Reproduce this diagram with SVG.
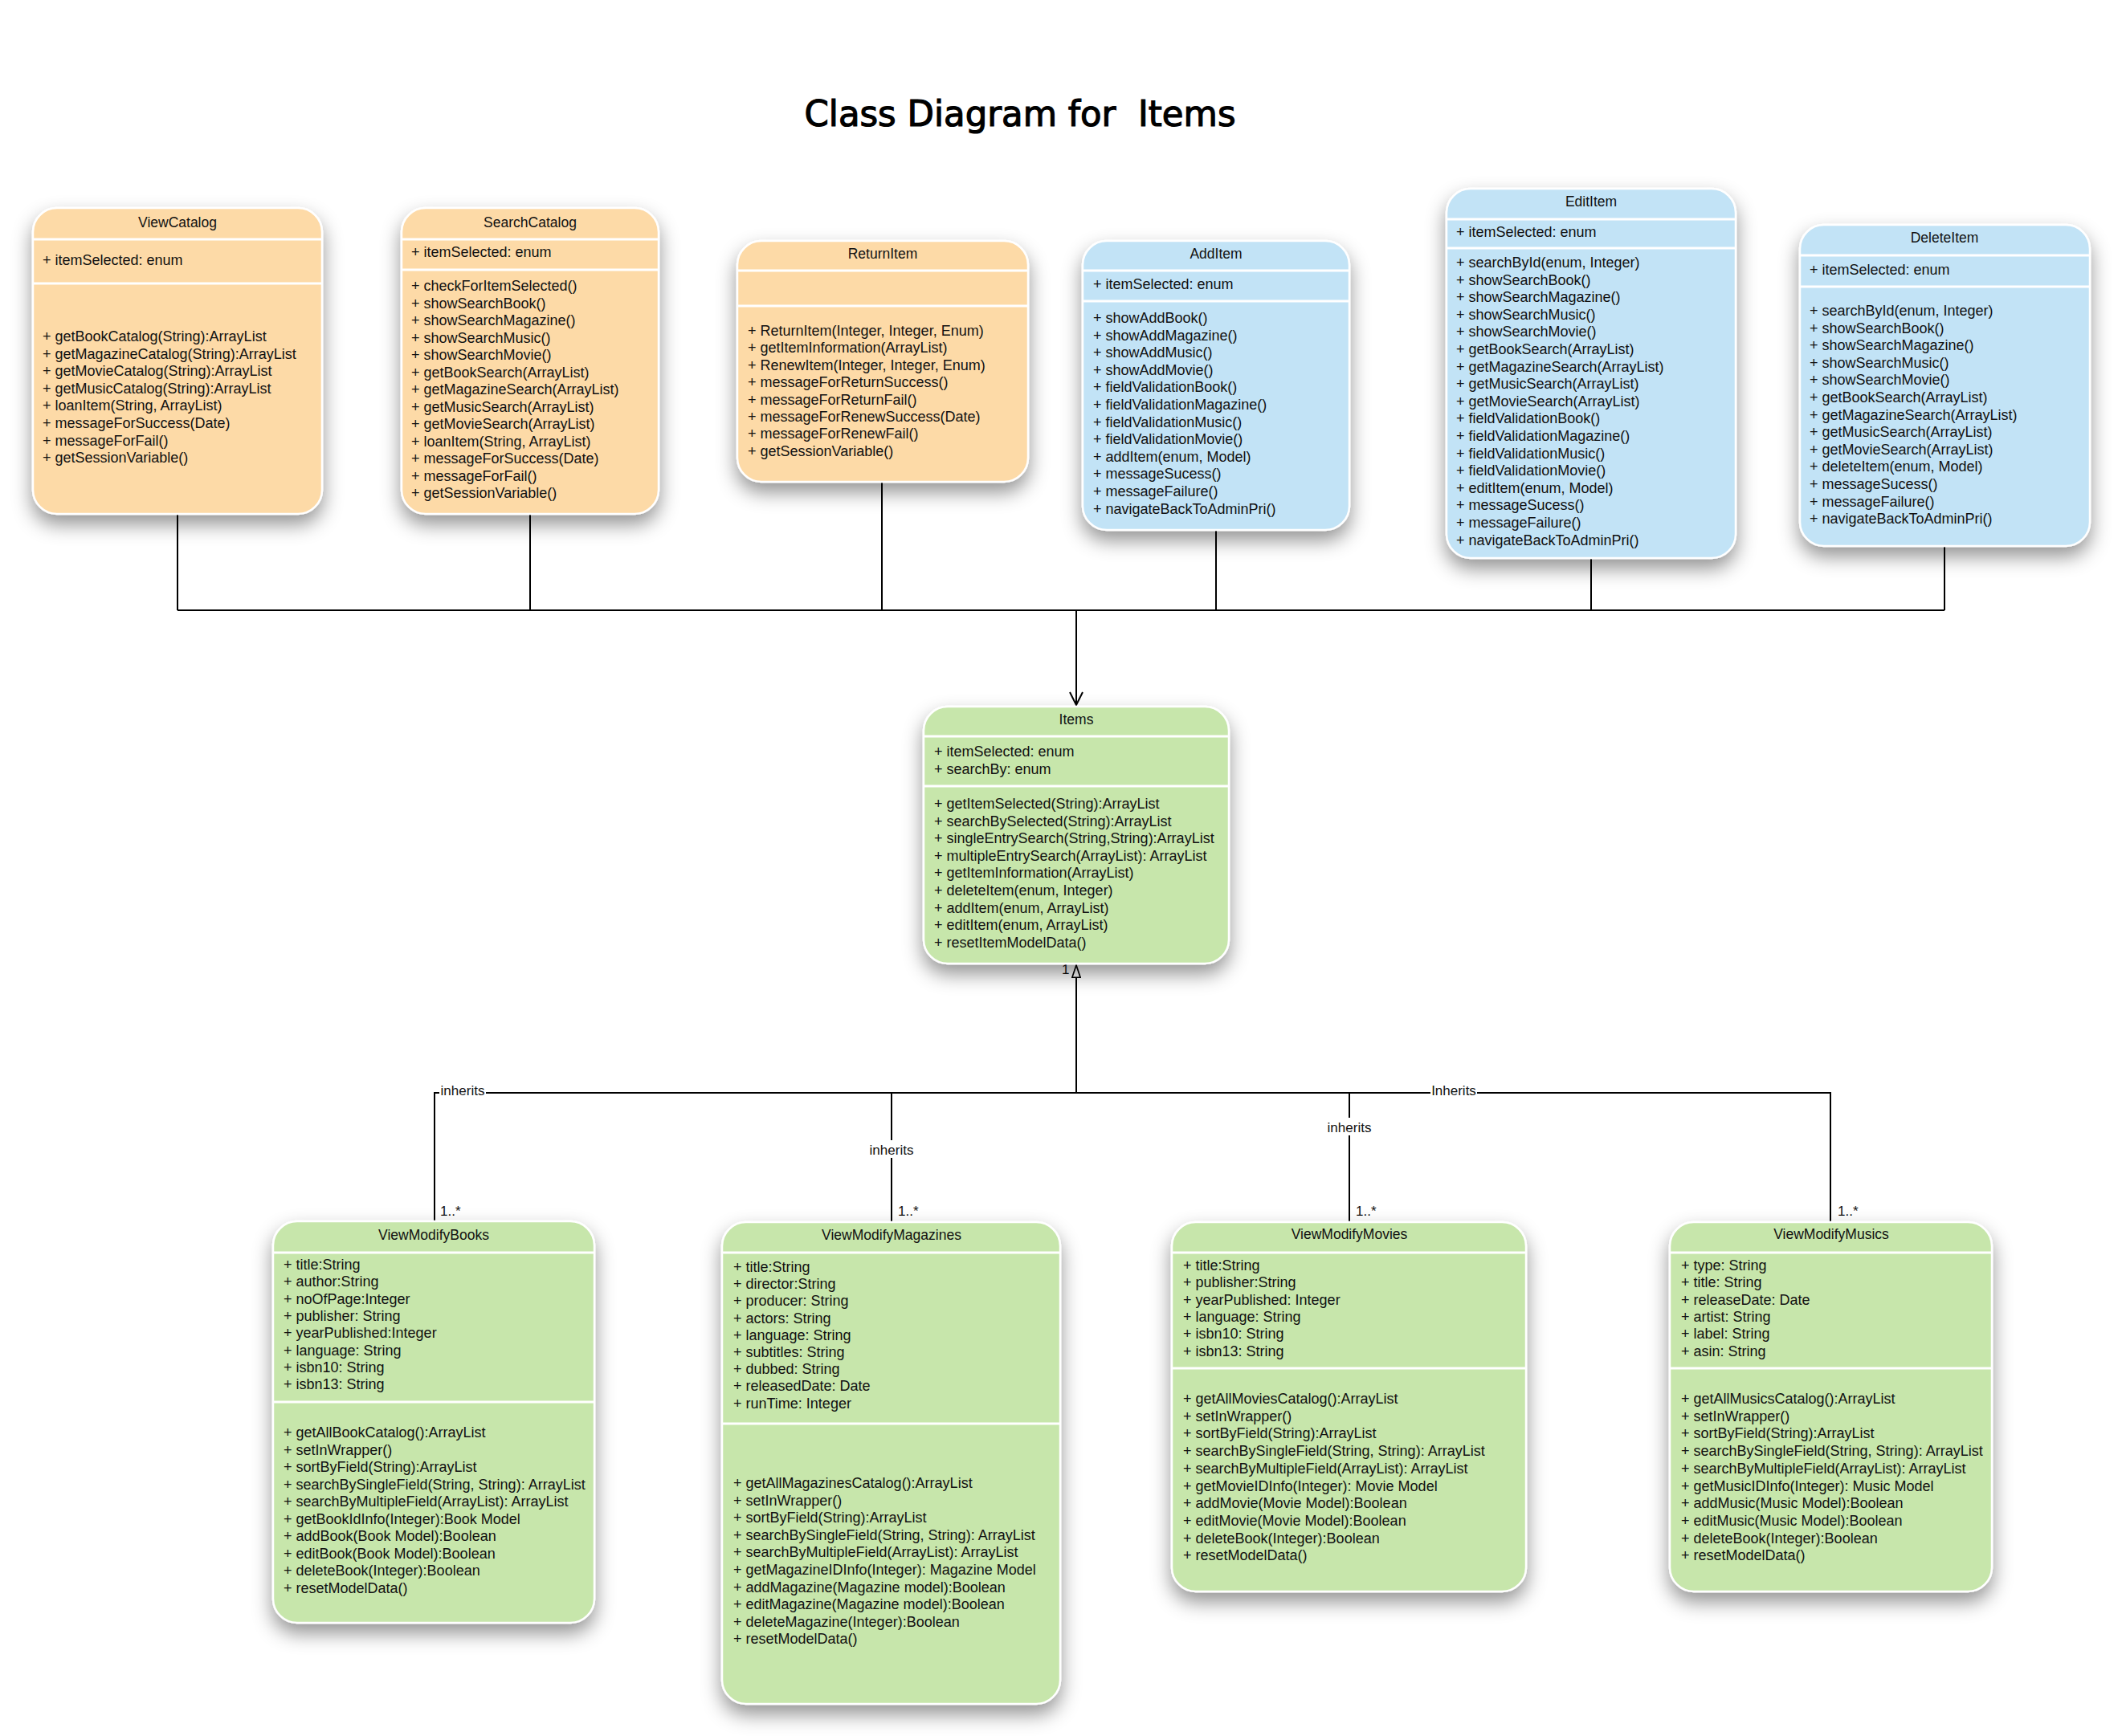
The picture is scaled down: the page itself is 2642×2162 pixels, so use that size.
<svg xmlns="http://www.w3.org/2000/svg" width="2642" height="2162" viewBox="0 0 2642 2162">
<defs>
<filter id="sh" x="-25%" y="-25%" width="150%" height="150%">
<feDropShadow dx="0" dy="12" stdDeviation="12" flood-color="#000" flood-opacity="0.42"/>
</filter>
<marker id="open" viewBox="0 0 20 20" refX="18" refY="10" markerWidth="20" markerHeight="20" markerUnits="userSpaceOnUse" orient="auto">
<path d="M2,2 L18,10 L2,18" fill="none" stroke="#000" stroke-width="2"/>
</marker>
<marker id="tri" viewBox="0 0 20 14" refX="19" refY="7" markerWidth="17" markerHeight="12" markerUnits="userSpaceOnUse" orient="auto">
<path d="M1,1 L19,7 L1,13 Z" fill="#fff" stroke="#000" stroke-width="2"/>
</marker>
</defs>
<style>
.box{stroke:#fff;stroke-width:2.5;filter:url(#sh)}
.or{fill:#FDDAA7}
.bl{fill:#C2E3F6}
.gr{fill:#C7E6AB}
.dv{stroke:#fff;stroke-width:3}
.t{font-family:"Liberation Sans",Arial,sans-serif;font-size:18px;fill:#111}
.h{font-family:"Liberation Sans",Arial,sans-serif;font-size:17.5px;fill:#111;text-anchor:middle}
.c{fill:none;stroke:#000;stroke-width:2}
.lb{font-family:"Liberation Sans",Arial,sans-serif;font-size:17px;fill:#111}
.lbc{font-family:"Liberation Sans",Arial,sans-serif;font-size:17px;fill:#111;text-anchor:middle}
</style>
<rect width="2642" height="2162" fill="#fff"/>
<text x="1270" y="157" font-family="'DejaVu Sans', sans-serif" font-size="44" text-anchor="middle" textLength="537" lengthAdjust="spacingAndGlyphs" fill="#000" stroke="#000" stroke-width="1.2" xml:space="preserve">Class Diagram for  Items</text>

<g id="connectors">
<path class="c" d="M221,640 V760 M660,640 V760 M1098,600 V760 M1514,660 V760 M1981,695 V760 M2421,680 V760 M221,760 H2421"/>
<path class="c" d="M1340,760 V878" marker-end="url(#open)"/>
<path class="c" d="M541,1522 V1361 H2279 V1522 M1110,1361 V1522 M1680,1361 V1522"/>
<path class="c" d="M1340,1361 V1202" marker-end="url(#tri)"/>
<text class="lb" x="1322" y="1213">1</text>
<rect x="547" y="1348" width="58" height="20" fill="#fff"/>
<text class="lbc" x="576" y="1364">inherits</text>
<rect x="1080" y="1420" width="60" height="22" fill="#fff"/>
<text class="lbc" x="1110" y="1438">inherits</text>
<rect x="1650" y="1392" width="60" height="22" fill="#fff"/>
<text class="lbc" x="1680" y="1410">inherits</text>
<rect x="1781" y="1348" width="58" height="20" fill="#fff"/>
<text class="lbc" x="1810" y="1364">Inherits</text>
<text class="lb" x="548" y="1514">1..*</text>
<text class="lb" x="1118" y="1514">1..*</text>
<text class="lb" x="1688" y="1514">1..*</text>
<text class="lb" x="2288" y="1514">1..*</text>
</g>

<g id="ViewCatalog">
<rect class="box or" x="41" y="259" width="360" height="381" rx="30"/>
<path class="dv" d="M41,298 H401 M41,353 H401"/>
<text class="h" x="221" y="283">ViewCatalog</text>
<text class="t" x="53" y="330">+ itemSelected: enum</text>
<text class="t" x="53" y="425">+ getBookCatalog(String):ArrayList</text>
<text class="t" x="53" y="446.6">+ getMagazineCatalog(String):ArrayList</text>
<text class="t" x="53" y="468.2">+ getMovieCatalog(String):ArrayList</text>
<text class="t" x="53" y="489.8">+ getMusicCatalog(String):ArrayList</text>
<text class="t" x="53" y="511.4">+ loanItem(String, ArrayList)</text>
<text class="t" x="53" y="533">+ messageForSuccess(Date)</text>
<text class="t" x="53" y="554.6">+ messageForFail()</text>
<text class="t" x="53" y="576.2">+ getSessionVariable()</text>
</g>

<g id="SearchCatalog">
<rect class="box or" x="500" y="259" width="320" height="381" rx="30"/>
<path class="dv" d="M500,298 H820 M500,336 H820"/>
<text class="h" x="660" y="283">SearchCatalog</text>
<text class="t" x="512" y="320">+ itemSelected: enum</text>
<text class="t" x="512" y="362">+ checkForItemSelected()</text>
<text class="t" x="512" y="383.5">+ showSearchBook()</text>
<text class="t" x="512" y="405">+ showSearchMagazine()</text>
<text class="t" x="512" y="426.5">+ showSearchMusic()</text>
<text class="t" x="512" y="448">+ showSearchMovie()</text>
<text class="t" x="512" y="469.5">+ getBookSearch(ArrayList)</text>
<text class="t" x="512" y="491">+ getMagazineSearch(ArrayList)</text>
<text class="t" x="512" y="512.5">+ getMusicSearch(ArrayList)</text>
<text class="t" x="512" y="534">+ getMovieSearch(ArrayList)</text>
<text class="t" x="512" y="555.5">+ loanItem(String, ArrayList)</text>
<text class="t" x="512" y="577">+ messageForSuccess(Date)</text>
<text class="t" x="512" y="598.5">+ messageForFail()</text>
<text class="t" x="512" y="620">+ getSessionVariable()</text>
</g>

<g id="ReturnItem">
<rect class="box or" x="918" y="300" width="362" height="300" rx="30"/>
<path class="dv" d="M918,337 H1280 M918,381 H1280"/>
<text class="h" x="1099" y="322">ReturnItem</text>
<text class="t" x="931" y="418">+ ReturnItem(Integer, Integer, Enum)</text>
<text class="t" x="931" y="439.4">+ getItemInformation(ArrayList)</text>
<text class="t" x="931" y="460.8">+ RenewItem(Integer, Integer, Enum)</text>
<text class="t" x="931" y="482.2">+ messageForReturnSuccess()</text>
<text class="t" x="931" y="503.6">+ messageForReturnFail()</text>
<text class="t" x="931" y="525">+ messageForRenewSuccess(Date)</text>
<text class="t" x="931" y="546.4">+ messageForRenewFail()</text>
<text class="t" x="931" y="567.8">+ getSessionVariable()</text>
</g>

<g id="AddItem">
<rect class="box bl" x="1348" y="300" width="332" height="360" rx="30"/>
<path class="dv" d="M1348,337 H1680 M1348,375 H1680"/>
<text class="h" x="1514" y="322">AddItem</text>
<text class="t" x="1361" y="360">+ itemSelected: enum</text>
<text class="t" x="1361" y="402">+ showAddBook()</text>
<text class="t" x="1361" y="423.6">+ showAddMagazine()</text>
<text class="t" x="1361" y="445.2">+ showAddMusic()</text>
<text class="t" x="1361" y="466.8">+ showAddMovie()</text>
<text class="t" x="1361" y="488.4">+ fieldValidationBook()</text>
<text class="t" x="1361" y="510">+ fieldValidationMagazine()</text>
<text class="t" x="1361" y="531.6">+ fieldValidationMusic()</text>
<text class="t" x="1361" y="553.2">+ fieldValidationMovie()</text>
<text class="t" x="1361" y="574.8">+ addItem(enum, Model)</text>
<text class="t" x="1361" y="596.4">+ messageSucess()</text>
<text class="t" x="1361" y="618">+ messageFailure()</text>
<text class="t" x="1361" y="639.6">+ navigateBackToAdminPri()</text>
</g>

<g id="EditItem">
<rect class="box bl" x="1801" y="235" width="360" height="460" rx="30"/>
<path class="dv" d="M1801,273 H2161 M1801,309 H2161"/>
<text class="h" x="1981" y="257">EditItem</text>
<text class="t" x="1813" y="295">+ itemSelected: enum</text>
<text class="t" x="1813" y="333">+ searchById(enum, Integer)</text>
<text class="t" x="1813" y="354.6">+ showSearchBook()</text>
<text class="t" x="1813" y="376.2">+ showSearchMagazine()</text>
<text class="t" x="1813" y="397.8">+ showSearchMusic()</text>
<text class="t" x="1813" y="419.4">+ showSearchMovie()</text>
<text class="t" x="1813" y="441">+ getBookSearch(ArrayList)</text>
<text class="t" x="1813" y="462.6">+ getMagazineSearch(ArrayList)</text>
<text class="t" x="1813" y="484.2">+ getMusicSearch(ArrayList)</text>
<text class="t" x="1813" y="505.8">+ getMovieSearch(ArrayList)</text>
<text class="t" x="1813" y="527.4">+ fieldValidationBook()</text>
<text class="t" x="1813" y="549">+ fieldValidationMagazine()</text>
<text class="t" x="1813" y="570.6">+ fieldValidationMusic()</text>
<text class="t" x="1813" y="592.2">+ fieldValidationMovie()</text>
<text class="t" x="1813" y="613.8">+ editItem(enum, Model)</text>
<text class="t" x="1813" y="635.4">+ messageSucess()</text>
<text class="t" x="1813" y="657">+ messageFailure()</text>
<text class="t" x="1813" y="678.6">+ navigateBackToAdminPri()</text>
</g>

<g id="DeleteItem">
<rect class="box bl" x="2241" y="280" width="361" height="400" rx="30"/>
<path class="dv" d="M2241,318 H2602 M2241,357 H2602"/>
<text class="h" x="2421" y="302">DeleteItem</text>
<text class="t" x="2253" y="342">+ itemSelected: enum</text>
<text class="t" x="2253" y="393">+ searchById(enum, Integer)</text>
<text class="t" x="2253" y="414.6">+ showSearchBook()</text>
<text class="t" x="2253" y="436.2">+ showSearchMagazine()</text>
<text class="t" x="2253" y="457.8">+ showSearchMusic()</text>
<text class="t" x="2253" y="479.4">+ showSearchMovie()</text>
<text class="t" x="2253" y="501">+ getBookSearch(ArrayList)</text>
<text class="t" x="2253" y="522.6">+ getMagazineSearch(ArrayList)</text>
<text class="t" x="2253" y="544.2">+ getMusicSearch(ArrayList)</text>
<text class="t" x="2253" y="565.8">+ getMovieSearch(ArrayList)</text>
<text class="t" x="2253" y="587.4">+ deleteItem(enum, Model)</text>
<text class="t" x="2253" y="609">+ messageSucess()</text>
<text class="t" x="2253" y="630.6">+ messageFailure()</text>
<text class="t" x="2253" y="652.2">+ navigateBackToAdminPri()</text>
</g>

<g id="Items">
<rect class="box gr" x="1150" y="880" width="380" height="320" rx="30"/>
<path class="dv" d="M1150,917 H1530 M1150,979 H1530"/>
<text class="h" x="1340" y="902">Items</text>
<text class="t" x="1163" y="942">+ itemSelected: enum</text>
<text class="t" x="1163" y="963.5">+ searchBy: enum</text>
<text class="t" x="1163" y="1007">+ getItemSelected(String):ArrayList</text>
<text class="t" x="1163" y="1028.6">+ searchBySelected(String):ArrayList</text>
<text class="t" x="1163" y="1050.2">+ singleEntrySearch(String,String):ArrayList</text>
<text class="t" x="1163" y="1071.8">+ multipleEntrySearch(ArrayList): ArrayList</text>
<text class="t" x="1163" y="1093.4">+ getItemInformation(ArrayList)</text>
<text class="t" x="1163" y="1115">+ deleteItem(enum, Integer)</text>
<text class="t" x="1163" y="1136.6">+ addItem(enum, ArrayList)</text>
<text class="t" x="1163" y="1158.2">+ editItem(enum, ArrayList)</text>
<text class="t" x="1163" y="1179.8">+ resetItemModelData()</text>
</g>

<g id="ViewModifyBooks">
<rect class="box gr" x="340" y="1521" width="400" height="500" rx="30"/>
<path class="dv" d="M340,1560 H740 M340,1746 H740"/>
<text class="h" x="540" y="1544">ViewModifyBooks</text>
<text class="t" x="353" y="1581">+ title:String</text>
<text class="t" x="353" y="1602.3">+ author:String</text>
<text class="t" x="353" y="1623.6">+ noOfPage:Integer</text>
<text class="t" x="353" y="1644.9">+ publisher: String</text>
<text class="t" x="353" y="1666.2">+ yearPublished:Integer</text>
<text class="t" x="353" y="1687.5">+ language: String</text>
<text class="t" x="353" y="1708.8">+ isbn10: String</text>
<text class="t" x="353" y="1730.1">+ isbn13: String</text>
<text class="t" x="353" y="1790">+ getAllBookCatalog():ArrayList</text>
<text class="t" x="353" y="1811.5">+ setInWrapper()</text>
<text class="t" x="353" y="1833">+ sortByField(String):ArrayList</text>
<text class="t" x="353" y="1854.5">+ searchBySingleField(String, String): ArrayList</text>
<text class="t" x="353" y="1876">+ searchByMultipleField(ArrayList): ArrayList</text>
<text class="t" x="353" y="1897.5">+ getBookIdInfo(Integer):Book Model</text>
<text class="t" x="353" y="1919">+ addBook(Book Model):Boolean</text>
<text class="t" x="353" y="1940.5">+ editBook(Book Model):Boolean</text>
<text class="t" x="353" y="1962">+ deleteBook(Integer):Boolean</text>
<text class="t" x="353" y="1983.5">+ resetModelData()</text>
</g>

<g id="ViewModifyMagazines">
<rect class="box gr" x="899" y="1522" width="421" height="600" rx="30"/>
<path class="dv" d="M899,1560 H1320 M899,1773 H1320"/>
<text class="h" x="1110" y="1544">ViewModifyMagazines</text>
<text class="t" x="913" y="1584">+ title:String</text>
<text class="t" x="913" y="1605.2">+ director:String</text>
<text class="t" x="913" y="1626.4">+ producer: String</text>
<text class="t" x="913" y="1647.6">+ actors: String</text>
<text class="t" x="913" y="1668.8">+ language: String</text>
<text class="t" x="913" y="1690">+ subtitles: String</text>
<text class="t" x="913" y="1711.2">+ dubbed: String</text>
<text class="t" x="913" y="1732.4">+ releasedDate: Date</text>
<text class="t" x="913" y="1753.6">+ runTime: Integer</text>
<text class="t" x="913" y="1853">+ getAllMagazinesCatalog():ArrayList</text>
<text class="t" x="913" y="1874.6">+ setInWrapper()</text>
<text class="t" x="913" y="1896.2">+ sortByField(String):ArrayList</text>
<text class="t" x="913" y="1917.8">+ searchBySingleField(String, String): ArrayList</text>
<text class="t" x="913" y="1939.4">+ searchByMultipleField(ArrayList): ArrayList</text>
<text class="t" x="913" y="1961">+ getMagazineIDInfo(Integer): Magazine Model</text>
<text class="t" x="913" y="1982.6">+ addMagazine(Magazine model):Boolean</text>
<text class="t" x="913" y="2004.2">+ editMagazine(Magazine model):Boolean</text>
<text class="t" x="913" y="2025.8">+ deleteMagazine(Integer):Boolean</text>
<text class="t" x="913" y="2047.4">+ resetModelData()</text>
</g>

<g id="ViewModifyMovies">
<rect class="box gr" x="1459" y="1522" width="441" height="460" rx="30"/>
<path class="dv" d="M1459,1560 H1900 M1459,1704 H1900"/>
<text class="h" x="1680" y="1543">ViewModifyMovies</text>
<text class="t" x="1473" y="1582">+ title:String</text>
<text class="t" x="1473" y="1603.3">+ publisher:String</text>
<text class="t" x="1473" y="1624.6">+ yearPublished: Integer</text>
<text class="t" x="1473" y="1645.9">+ language: String</text>
<text class="t" x="1473" y="1667.2">+ isbn10: String</text>
<text class="t" x="1473" y="1688.5">+ isbn13: String</text>
<text class="t" x="1473" y="1748">+ getAllMoviesCatalog():ArrayList</text>
<text class="t" x="1473" y="1769.7">+ setInWrapper()</text>
<text class="t" x="1473" y="1791.4">+ sortByField(String):ArrayList</text>
<text class="t" x="1473" y="1813.1">+ searchBySingleField(String, String): ArrayList</text>
<text class="t" x="1473" y="1834.8">+ searchByMultipleField(ArrayList): ArrayList</text>
<text class="t" x="1473" y="1856.5">+ getMovieIDInfo(Integer): Movie Model</text>
<text class="t" x="1473" y="1878.2">+ addMovie(Movie Model):Boolean</text>
<text class="t" x="1473" y="1899.9">+ editMovie(Movie Model):Boolean</text>
<text class="t" x="1473" y="1921.6">+ deleteBook(Integer):Boolean</text>
<text class="t" x="1473" y="1943.3">+ resetModelData()</text>
</g>

<g id="ViewModifyMusics">
<rect class="box gr" x="2079" y="1522" width="401" height="460" rx="30"/>
<path class="dv" d="M2079,1560 H2480 M2079,1704 H2480"/>
<text class="h" x="2280" y="1543">ViewModifyMusics</text>
<text class="t" x="2093" y="1582">+ type: String</text>
<text class="t" x="2093" y="1603.3">+ title: String</text>
<text class="t" x="2093" y="1624.6">+ releaseDate: Date</text>
<text class="t" x="2093" y="1645.9">+ artist: String</text>
<text class="t" x="2093" y="1667.2">+ label: String</text>
<text class="t" x="2093" y="1688.5">+ asin: String</text>
<text class="t" x="2093" y="1748">+ getAllMusicsCatalog():ArrayList</text>
<text class="t" x="2093" y="1769.7">+ setInWrapper()</text>
<text class="t" x="2093" y="1791.4">+ sortByField(String):ArrayList</text>
<text class="t" x="2093" y="1813.1">+ searchBySingleField(String, String): ArrayList</text>
<text class="t" x="2093" y="1834.8">+ searchByMultipleField(ArrayList): ArrayList</text>
<text class="t" x="2093" y="1856.5">+ getMusicIDInfo(Integer): Music Model</text>
<text class="t" x="2093" y="1878.2">+ addMusic(Music Model):Boolean</text>
<text class="t" x="2093" y="1899.9">+ editMusic(Music Model):Boolean</text>
<text class="t" x="2093" y="1921.6">+ deleteBook(Integer):Boolean</text>
<text class="t" x="2093" y="1943.3">+ resetModelData()</text>
</g>
</svg>
